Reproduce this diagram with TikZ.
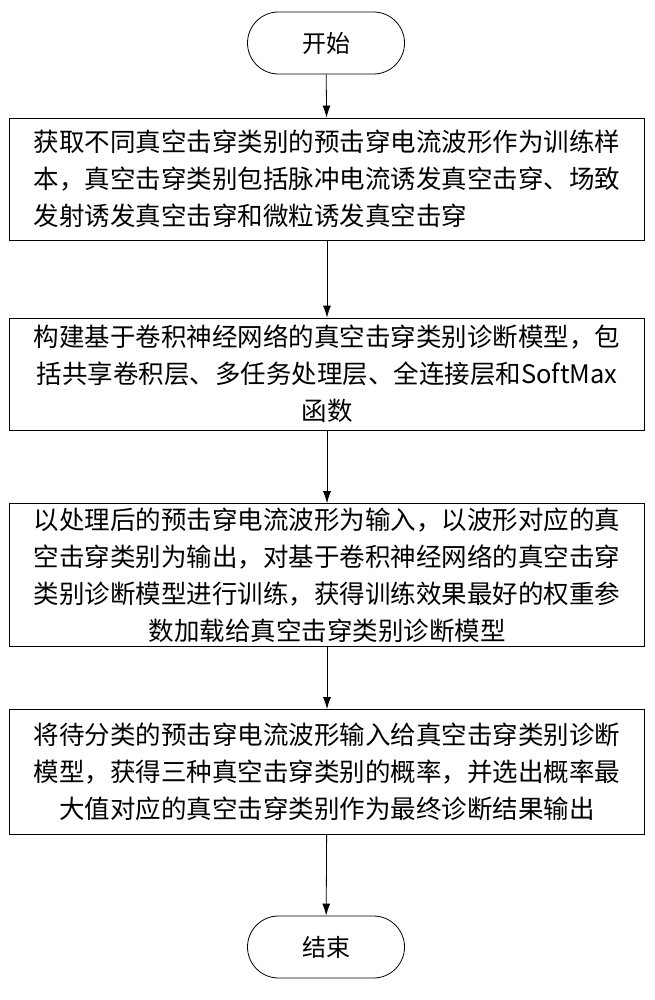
\documentclass[tikz,border=0pt]{standalone}
\usepackage{fontspec}
\newfontfamily\cjk{Noto Sans CJK SC}
\usetikzlibrary{shapes,arrows.meta,positioning}
\begin{document}
\begin{tikzpicture}[x=1pt,y=-1pt,
    terminal/.style={rectangle,draw,thick,rounded corners=31pt,minimum width=157pt,minimum height=62pt,font=\cjk\fontsize{24}{36}\selectfont},
    process/.style={rectangle,draw,thick,minimum width=635pt,inner sep=4pt,font=\cjk\fontsize{25.5}{37}\selectfont},
    flow/.style={-{Latex[length=12pt,width=8pt]},thick}
]
\useasboundingbox (0,0) rectangle (654,1000);
\node[terminal] (start) at (326,43) {开始};
\node[process,align=left,minimum height=122pt] (sample) at (327,179) {获取不同真空击穿类别的预击穿电流波形作为训练样\\本，真空击穿类别包括脉冲电流诱发真空击穿、场致\\发射诱发真空击穿和微粒诱发真空击穿};
\node[process,align=center,minimum height=112pt] (model) at (327,374) {构建基于卷积神经网络的真空击穿类别诊断模型，包\\括共享卷积层、多任务处理层、全连接层和SoftMax\\函数};
\node[process,align=center,minimum height=130pt] (train) at (327,575) {以处理后的预击穿电流波形为输入，以波形对应的真\\空击穿类别为输出，对基于卷积神经网络的真空击穿\\类别诊断模型进行训练，获得训练效果最好的权重参\\数加载给真空击穿类别诊断模型};
\node[process,align=center,minimum height=125pt] (diag) at (327,772) {将待分类的预击穿电流波形输入给真空击穿类别诊断\\模型，获得三种真空击穿类别的概率，并选出概率最\\大值对应的真空击穿类别作为最终诊断结果输出};
\node[terminal] (stop) at (326,947) {结束};

\draw[flow] (start) -- (sample);
\draw[flow] (sample) -- (model);
\draw[flow] (model) -- (train);
\draw[flow] (train) -- (diag);
\draw[flow] (diag) -- (stop);
\end{tikzpicture}
\end{document}
